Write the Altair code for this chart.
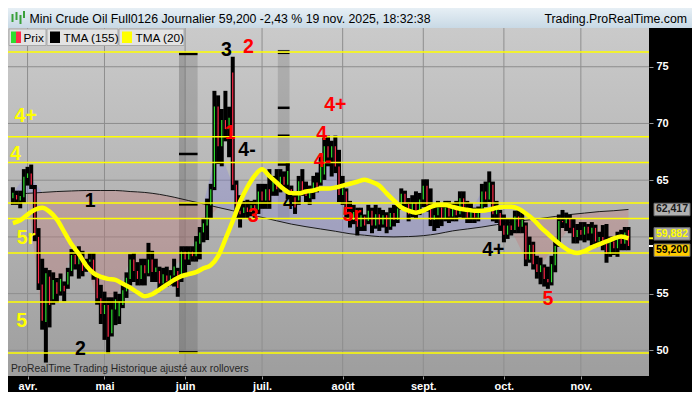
import altair as alt
import pandas as pd

# daily bars (index 0 = last days of March, last = 19 nov.)
opens = [63.4, 63.7, 63.2, 63.5, 65.2, 65.6, 64.2, 60.0, 55.8, 52.5,
         56.5, 54.5, 56.0, 55.2, 55.7, 55.8, 57.0, 58.4, 57.6, 58.2,
         57.2, 57.8, 58.0, 56.4, 54.6, 53.2, 54.0, 51.5, 53.6, 53.0,
         54.0, 55.2, 56.3, 58.0, 57.0, 56.3, 57.5, 56.8, 58.0, 56.9,
         57.0, 55.9, 56.6, 56.0, 56.6, 57.0, 56.5, 58.7, 58.0, 58.7,
         58.3, 59.4, 60.4, 61.0, 62.8, 64.4, 71.5, 68.0, 70.3, 69.5,
         74.5, 64.6, 62.3, 62.1, 62.6, 62.2, 62.8, 62.4, 64.0, 63.2,
         64.2, 64.0, 64.9, 64.2, 65.3, 64.6, 64.2, 63.5, 63.2, 64.9,
         64.1, 63.4, 64.0, 64.8, 64.8, 65.5, 68.0, 67.0, 68.0, 66.2,
         63.7, 64.0, 62.1, 61.5, 62.2, 60.9, 61.8, 61.4, 62.3, 61.0,
         62.0, 61.1, 61.9, 60.9, 62.1, 61.5, 62.6, 63.8, 62.9, 62.0,
         63.0, 62.2, 63.3, 64.5, 62.8, 61.5, 61.9, 62.6, 61.6, 62.6,
         61.8, 62.5, 62.0, 63.4, 62.3, 61.7, 62.3, 61.7, 62.5, 64.0,
         63.3, 64.6, 62.0, 62.1, 61.0, 60.2, 61.0, 60.6, 61.8, 60.9,
         61.0, 58.0, 59.3, 57.6, 56.9, 57.3, 56.3, 56.0, 57.5, 59.4,
         61.4, 61.2, 61.6, 60.8, 60.0, 60.6, 60.2, 60.9, 60.3, 60.8,
         59.6, 60.0, 59.4, 58.5, 59.6, 59.0, 60.0, 59.4, 60.6]
highs = [64.2, 63.9, 63.9, 65.8, 66.0, 66.2, 64.4, 60.6, 57.9, 57.1,
         56.9, 56.7, 56.2, 56.6, 55.9, 57.1, 58.75, 58.6, 59.0, 58.6,
         57.9, 58.4, 58.4, 56.5, 55.6, 55.0, 54.5, 54.5, 55.0, 54.8,
         55.6, 56.7, 58.3, 58.4, 57.6, 57.9, 57.9, 59.3, 58.6, 57.9,
         57.2, 57.1, 57.2, 56.9, 57.9, 57.1, 59.0, 59.0, 59.0, 59.0,
         59.9, 60.7, 61.5, 63.2, 64.5, 72.7, 72.3, 71.1, 72.7, 71.3,
         75.7, 64.8, 63.5, 63.0, 63.1, 63.0, 63.1, 64.5, 64.5, 64.5,
         65.8, 65.2, 65.8, 65.8, 65.6, 66.4, 64.35, 63.8, 65.2, 65.8,
         64.7, 64.35, 65.2, 65.5, 66.9, 68.6, 68.75, 68.3, 68.75, 67.5,
         65.2, 64.1, 63.0, 62.65, 62.4, 62.4, 61.8, 62.65, 62.4, 62.65,
         62.4, 62.2, 62.0, 62.4, 62.65, 62.8, 64.1, 63.9, 63.25, 63.5,
         63.84, 63.7, 64.9, 64.9, 64.1, 62.65, 63.0, 62.8, 63.0, 63.0,
         62.8, 63.0, 63.84, 63.84, 63.0, 62.8, 62.4, 62.5, 64.5, 64.7,
         65.6, 64.7, 63.0, 62.2, 61.8, 61.4, 61.4, 62.14, 62.2, 61.97,
         61.1, 59.85, 59.4, 58.16, 58.0, 57.4, 57.2, 58.16, 59.6, 61.8,
         62.2, 61.97, 61.8, 61.4, 60.96, 61.13, 61.13, 60.96, 61.13, 60.9,
         60.28, 60.87, 60.96, 59.86, 59.86, 60.28, 60.45, 60.7, 60.7]
lows = [63.0, 63.0, 62.7, 63.2, 64.7, 64.4, 59.8, 55.5, 52.0, 49.1,
        52.2, 54.2, 54.4, 55.0, 54.5, 55.6, 56.7, 57.3, 56.5, 56.7,
        57.1, 57.3, 56.4, 54.2, 52.5, 51.1, 49.9, 51.4, 52.4, 52.5,
        53.9, 54.8, 55.9, 56.2, 55.9, 55.9, 55.9, 56.7, 56.2, 56.2,
        55.4, 55.8, 55.8, 55.9, 55.8, 54.9, 56.2, 56.7, 57.7, 58.0,
        58.0, 58.2, 59.7, 59.9, 61.8, 64.3, 66.6, 66.4, 68.6, 67.2,
        64.3, 61.8, 61.0, 61.8, 61.8, 62.0, 61.8, 62.2, 62.65, 62.65,
        62.65, 63.8, 63.8, 64.1, 64.35, 63.5, 63.25, 62.2, 63.0, 63.8,
        63.25, 63.0, 63.5, 64.1, 64.7, 65.2, 66.4, 65.5, 65.8, 63.25,
        63.0, 61.8, 61.0, 61.3, 60.3, 60.7, 60.7, 61.3, 60.5, 60.9,
        60.7, 61.0, 60.5, 60.8, 61.1, 61.4, 62.55, 62.55, 61.55, 61.9,
        61.8, 62.1, 62.8, 62.4, 61.13, 60.7, 60.96, 61.13, 61.55, 61.4,
        61.55, 61.55, 61.9, 61.8, 61.4, 61.4, 61.4, 61.55, 62.4, 62.8,
        63.25, 61.55, 61.4, 60.7, 59.7, 60.0, 60.3, 60.5, 60.5, 60.5,
        57.6, 57.9, 57.3, 56.5, 56.0, 55.8, 55.6, 55.9, 57.06, 59.3,
        60.96, 60.7, 60.5, 59.6, 59.6, 59.86, 59.7, 59.86, 59.43, 59.26,
        59.43, 59.0, 57.9, 58.42, 58.58, 58.42, 59.0, 59.0, 59.0]
closes = [63.9, 63.3, 63.6, 65.3, 65.6, 64.6, 60.2, 55.9, 52.6, 56.8,
          54.0, 56.2, 55.0, 56.3, 55.2, 56.9, 58.4, 57.6, 58.2, 57.0,
          57.8, 58.0, 56.7, 54.6, 53.2, 54.0, 51.2, 53.6, 54.5, 54.3,
          55.3, 56.4, 58.0, 57.0, 56.3, 57.5, 56.8, 58.0, 56.9, 57.3,
          55.9, 56.7, 56.1, 56.6, 57.4, 55.5, 58.7, 58.0, 58.7, 58.3,
          59.6, 60.4, 61.2, 62.8, 64.2, 71.5, 68.0, 70.3, 69.5, 70.5,
          64.6, 62.3, 62.0, 62.6, 62.2, 62.8, 62.4, 64.0, 63.2, 64.2,
          63.2, 64.9, 64.2, 65.3, 64.6, 65.8, 63.5, 62.6, 64.9, 64.1,
          63.6, 64.0, 64.8, 64.3, 66.5, 68.0, 67.0, 68.0, 66.2, 63.7,
          64.3, 62.1, 61.5, 62.2, 60.9, 61.9, 61.0, 62.3, 61.0, 62.0,
          61.1, 61.9, 60.9, 62.1, 61.5, 62.5, 63.8, 62.9, 62.0, 63.0,
          62.2, 63.3, 64.5, 62.8, 61.5, 61.9, 62.6, 61.6, 62.6, 61.8,
          62.5, 61.9, 63.4, 62.3, 61.7, 62.5, 61.7, 62.2, 64.0, 63.3,
          64.8, 62.0, 62.4, 61.0, 60.2, 61.0, 60.6, 61.8, 60.9, 61.5,
          58.0, 59.3, 57.6, 56.9, 57.5, 56.3, 56.0, 57.6, 59.2, 61.4,
          61.3, 61.6, 60.8, 60.0, 60.6, 60.2, 60.9, 60.3, 60.8, 59.6,
          60.0, 59.4, 58.5, 59.6, 59.0, 60.0, 59.4, 60.4, 59.2]

# moving averages
tma20_idx = list(range(0, 169, 2))
tma20 = [61.21, 61.47, 61.97, 62.40, 62.57, 62.23, 61.55, 60.45, 59.35, 58.50,
         57.48, 56.81, 56.47, 56.30, 56.21, 55.87, 55.53, 55.11, 54.77, 54.94,
         55.36, 55.79, 56.21, 56.55, 56.72, 56.89, 57.23, 57.50, 58.30, 59.80,
         61.40, 63.10, 64.40, 65.40, 65.96, 65.36, 64.77, 64.20, 63.84, 63.84,
         64.01, 64.09, 64.26, 64.26, 64.35, 64.52, 64.69, 64.86, 65.03, 64.84,
         64.52, 63.84, 63.20, 62.60, 62.31, 62.14, 62.31, 62.65, 62.82, 62.82,
         62.65, 62.48, 62.40, 62.31, 62.31, 62.40, 62.57, 62.65, 62.65, 62.48,
         62.06, 61.55, 60.87, 60.28, 59.69, 59.18, 58.75, 58.58, 58.75, 59.09,
         59.35, 59.60, 59.86, 60.03, 59.88]
tma155_idx = list(range(0, 169, 4))
tma155 = [63.75, 63.84, 63.92, 64.00, 64.05, 64.09, 64.09, 64.09, 64.00, 63.92,
          63.75, 63.50, 63.20, 62.91, 62.60, 62.31, 62.00, 61.72, 61.42, 61.13,
          60.90, 60.70, 60.50, 60.28, 60.15, 60.03, 60.00, 60.03, 60.11, 60.28,
          60.53, 60.70, 60.87, 61.08, 61.30, 61.47, 61.63, 61.80, 61.97, 62.10,
          62.23, 62.31, 62.42]

level_prices = [76.30, 68.84, 66.55, 62.99, 61.63, 58.58, 54.26, 49.77]

month_idx = [4, 25, 47, 68, 90, 112, 134, 155]
month_labels = ["avr.", "mai", "juin", "juil.", "août", "sept.", "oct.", "nov."]
grid_prices = [50, 55, 60, 65, 70, 75]
# 60 sits under the price tags, so its label is not shown
label_prices = [50, 55, 65, 70, 75]

wave_text = ["4+", "4", "5r", "5", "1", "2", "3", "2", "1", "4-",
             "3", "4", "4+", "4", "4-", "5r", "4+", "5"]
wave_idx = [3.5, 0.7, 3.6, 2.4, 21.1, 18.4, 58.3, 64.3, 59.3, 63.9,
            65.6, 75.2, 88.0, 84.3, 84.5, 92.5, 131.1, 146.0]
wave_price = [70.66, 67.31, 59.90, 52.60, 63.20, 50.15, 76.50, 76.76, 69.14, 67.70,
              61.85, 62.95, 71.64, 69.05, 66.68, 61.93, 58.88, 54.52]
wave_color = ["#ffff00", "#ffff00", "#ffff00", "#ffff00", "#000000", "#000000",
              "#000000", "#ff0000", "#ff0000", "#000000", "#ff0000", "#000000",
              "#ff0000", "#ff0000", "#ff0000", "#ff0000", "#000000", "#ff0000"]

# shaded vertical zones and their marks
band_lo = [45.33, 45.33, 72.3]
band_hi = [50.4, 46.8, 75.5]
band_bottom = [49.75, 49.75, 61.4]
band_top = [76.25, 76.25, 76.5]
band_alpha = [0.25, 0.12, 0.22]
tick_lo = [45.33, 45.33, 45.33, 45.33, 72.3, 72.3, 72.3, 72.3, 72.3]
tick_hi = [50.4, 50.4, 50.4, 50.4, 75.5, 75.5, 75.5, 75.5, 75.5]
tick_price = [76.13, 67.31, 62.87, 49.82, 76.40, 76.17, 71.38, 68.92, 66.38]
tick_w = [2.5, 2.5, 2.5, 2.5, 1.2, 1.2, 2.5, 2.5, 2.5]

tag_values = [62.417, 59.882, 59.200]

W, H = 641, 348
TOP, RIGHT, BOTTOM = 20, 43, 16
FONT = "Liberation Sans"
GREEN, RED, YELLOW = "#2fdc2f", "#ff2a4a", "#ffff00"

x_scale = alt.Scale(domain=[-1.333, 173.6], nice=False, zero=False)
y_scale = alt.Scale(domain=[47.74, 78.415], nice=False, zero=False)

month_expr = " : ".join(
    f"datum.value == {v} ? '{t}'" for v, t in zip(month_idx, month_labels)
) + " : ''"

x_axis = alt.Axis(values=month_idx, labelExpr=month_expr, orient="bottom",
                  grid=False, domain=False, tickSize=3, tickColor="#9a9a9a",
                  labelColor="white", labelFontWeight="bold", labelFontSize=11,
                  labelFont=FONT, labelPadding=1, labelFlush=False,
                  labelOverlap=False, title=None, zindex=1)
y_axis = alt.Axis(values=label_prices, orient="right", format="d", grid=False,
                  domain=False, tickSize=4, tickColor="#9a9a9a",
                  labelColor="white", labelFontWeight="bold", labelFontSize=11,
                  labelFont=FONT, labelPadding=3, labelFlush=False,
                  title=None, zindex=1)


def X(f):
    return alt.X(f, type="quantitative", scale=x_scale, axis=x_axis)


def Y(f):
    return alt.Y(f, type="quantitative", scale=y_scale, axis=y_axis)


def vgrad(top, bottom):
    return alt.LinearGradient(
        gradient="linear",
        stops=[alt.GradientStop(color=top, offset=0),
               alt.GradientStop(color=bottom, offset=1)],
        x1=0, x2=0, y1=0, y2=1,
    )


one = pd.DataFrame({"k": [0]})


def box(x0, x1, y0, y1, **mark):
    return alt.Chart(one).mark_rect(**mark).encode(
        x=alt.value(x0), x2=alt.value(x1), y=alt.value(y0), y2=alt.value(y1))


def label(x, y, text, **mark):
    return alt.Chart(one).mark_text(text=text, font=FONT, baseline="middle", **mark).encode(
        x=alt.value(x), y=alt.value(y))


bars = pd.DataFrame({"i": range(len(closes)), "open": opens, "high": highs,
                     "low": lows, "close": closes})
fill = pd.DataFrame({"i": tma155_idx, "tma": tma155,
                     "close": [closes[i] for i in tma155_idx]})
bands = pd.DataFrame({"a": band_lo, "b": band_hi, "lo": band_bottom,
                      "hi": band_top, "op": band_alpha})
ticks = pd.DataFrame({"a": tick_lo, "b": tick_hi, "p": tick_price, "w": tick_w})
waves = pd.DataFrame({"i": wave_idx, "p": wave_price, "t": wave_text, "c": wave_color})

layers = [
    box(0, W, 0, H, color=vgrad("#cacaca", "#9e9e9e")),
    alt.Chart(pd.DataFrame({"v": grid_prices})).mark_rule(
        color="#8e8e8e", strokeWidth=1).encode(y=Y("v")),
    alt.Chart(pd.DataFrame({"i": month_idx})).mark_rule(
        color="#8e8e8e", strokeWidth=1).encode(x=X("i")),
    alt.Chart(bands).mark_rect(color="#555555").encode(
        x=X("a"), x2=alt.X2("b"), y=Y("lo"), y2=alt.Y2("hi"),
        opacity=alt.Opacity("op:Q", scale=None)),
    alt.Chart(fill).transform_calculate(lo="min(datum.close, datum.tma)").mark_area(
        color="#c87070", opacity=0.3).encode(x=X("i"), y=Y("tma"), y2=alt.Y2("lo")),
    alt.Chart(fill).transform_calculate(hi="max(datum.close, datum.tma)").mark_area(
        color="#7f7fe0", opacity=0.3).encode(x=X("i"), y=Y("hi"), y2=alt.Y2("tma")),
    alt.Chart(fill).mark_line(color="#1a1a1a", strokeWidth=1, interpolate="monotone").encode(
        x=X("i"), y=Y("tma")),
    alt.Chart(ticks).mark_rule(color="black").encode(
        x=X("a"), x2=alt.X2("b"), y=Y("p"),
        strokeWidth=alt.StrokeWidth("w:Q", scale=None)),
    alt.Chart(bars).mark_rule(color="black", strokeWidth=4, strokeCap="square").encode(
        x=X("i"), y=Y("low"), y2=alt.Y2("high")),
    alt.Chart(bars).mark_rule(strokeWidth=1.2).encode(
        x=X("i"), y=Y("open"), y2=alt.Y2("close"),
        color=alt.condition("datum.close >= datum.open", alt.value(GREEN), alt.value(RED))),
    alt.Chart(pd.DataFrame({"v": level_prices})).mark_rule(
        color=YELLOW, strokeWidth=1.5).encode(y=Y("v")),
    alt.Chart(pd.DataFrame({"i": tma20_idx, "v": tma20})).mark_line(
        color=YELLOW, strokeWidth=4.5, interpolate="monotone").encode(x=X("i"), y=Y("v")),
    alt.Chart(waves).mark_text(font=FONT, fontSize=19.5, fontWeight="bold",
                               align="center", baseline="middle").encode(
        x=X("i"), y=Y("p"), text="t:N", color=alt.Color("c:N", scale=None)),
    label(3, 341, "ProRealTime Trading  Historique ajusté aux rollovers",
          align="left", fontSize=10.3, color="#262626"),
    box(W, W + RIGHT, 0, H + BOTTOM, color="black"),
    box(0, W, H, H + BOTTOM, color="black"),
    alt.Chart(pd.DataFrame({"v": [59.88]})).mark_rule(color=YELLOW, strokeWidth=2).encode(
        x=alt.value(W), x2=alt.value(W + 4), y=Y("v")),
    alt.Chart(pd.DataFrame({"v": [59.2]})).mark_rule(color="white", strokeWidth=2).encode(
        x=alt.value(W), x2=alt.value(W + 4), y=Y("v")),
]

# price tags on the right scale: boxes first, then their texts
tag_style = [("#b2b2b2", "#1a1a1a", 0), ("#a6a6a6", YELLOW, -4.4), ("#ffcc00", "#000000", 4.2)]
tag_boxes, tag_texts = [], []
for v, (bg, fg, dy) in zip(tag_values, tag_style):
    tdf = pd.DataFrame({"v": [v], "t": [f"{v:.3f}".replace(".", ",")]})
    tag_boxes.append(
        alt.Chart(tdf).transform_calculate(lo="datum.v - 0.55", hi="datum.v + 0.55").mark_rect(
            color=bg, stroke="#6a6a6a", strokeWidth=1, yOffset=dy, y2Offset=dy).encode(
            x=alt.value(W + 5), x2=alt.value(W + 41), y=Y("lo"), y2=alt.Y2("hi")))
    tag_texts.append(
        alt.Chart(tdf).mark_text(font=FONT, fontSize=10.5, fontWeight="bold", color=fg,
                                 align="center", baseline="middle", yOffset=dy).encode(
            x=alt.value(W + 23), y=Y("v"), text="t:N"))
layers += tag_boxes + tag_texts

layers += [
    box(0, W + RIGHT, -TOP, 0, color=vgrad("#e6eff5", "#c8d9e5")),
    box(3.5, 5.5, -14, -6, color="#3aa03a"),
    box(7.5, 9.5, -16, -8, color="#3aa03a"),
    box(11.5, 13.5, -13, -4, color="#3aa03a"),
    box(15, 17, -17, -10, color="#3aa03a"),
    label(21.5, -9.5, "Mini Crude Oil Full0126 Journalier 59,200 -2,43 % 19 nov. 2025, 18:32:38",
          align="left", fontSize=12.3, color="black"),
    label(W + RIGHT - 5, -9.5, "Trading.ProRealTime.com",
          align="right", fontSize=12.3, color="black"),
    box(1, 38, 1, 17.5, color="#e3e3e3", stroke="#a9a9a9", strokeWidth=1),
    box(39, 110, 1, 17.5, color="#e3e3e3", stroke="#a9a9a9", strokeWidth=1),
    box(111, 176, 1, 17.5, color="#e3e3e3", stroke="#a9a9a9", strokeWidth=1),
    box(3, 8, 3.5, 15, color=GREEN),
    box(8, 13, 3.5, 15, color=RED),
    box(42, 52, 3.5, 15, color="black"),
    box(114, 124, 3.5, 15, color=YELLOW),
    label(15.5, 9.5, "Prix", align="left", fontSize=11.8, color="black"),
    label(55.5, 9.5, "TMA (155)", align="left", fontSize=11.8, color="black"),
    label(127.5, 9.5, "TMA (20)", align="left", fontSize=11.8, color="black"),
]

chart = alt.layer(*layers).properties(
    width=W, height=H,
    padding={"left": 0, "top": TOP, "right": RIGHT, "bottom": BOTTOM},
    autosize=alt.AutoSizeParams(type="none"),
    background="white",
).configure(font=FONT).configure_view(strokeWidth=0)

chart.save("out.html", embed_options={"renderer": "svg", "actions": False})
